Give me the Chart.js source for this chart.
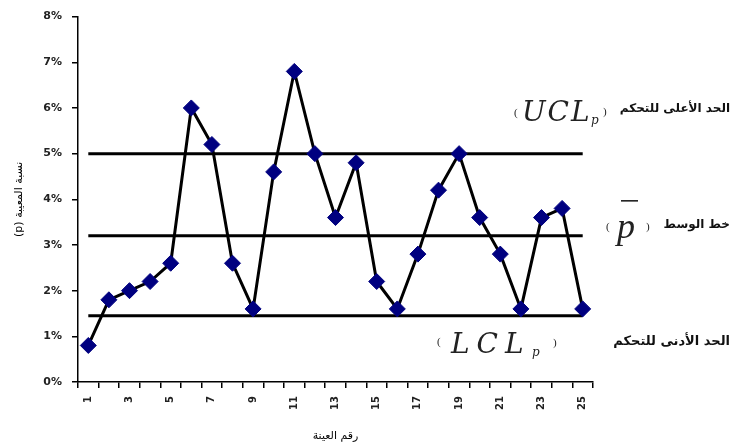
<!DOCTYPE html>
<html>
<head>
<meta charset="utf-8">
<script src="https://cdn.jsdelivr.net/npm/chart.js@4"></script>
<style>
html,body{margin:0;padding:0;background:#fff;}
#wrap{width:730px;height:443px;}
</style>
</head>
<body>
<div id="wrap"><canvas id="c" width="730" height="443"></canvas></div>
<script>
// ---- data ----
const categories = ['1','2','3','4','5','6','7','8','9','10','11','12','13','14','15','16','17','18','19','20','21','22','23','24','25'];
const defectRate = [0.8,1.8,2.0,2.2,2.6,6.0,5.2,2.6,1.6,4.6,6.8,5.0,3.6,4.8,2.2,1.6,2.8,4.2,5.0,3.6,2.8,1.6,3.6,3.8,1.6];
const UCL = 5.0;
const CL = 3.2;
const LCL = 1.45;
const yTickLabels = ['0%','1%','2%','3%','4%','5%','6%','7%','8%'];
const xTitle = 'رقم العينة';
const yTitle = '(p) نسبة المعيبة';
const uclText = 'الحد الأعلى للتحكم';
const clText = 'خط الوسط';
const lclText = 'الحد الأدنى للتحكم';

Chart.defaults.font.family = "'DejaVu Sans', sans-serif";
Chart.defaults.color = '#000';

function limitLine(v){
  return {
    data:[{x:categories[0], y:v},{x:categories[categories.length-1], y:v}],
    borderColor:'#000', borderWidth:3, pointRadius:0, tension:0, order:2
  };
}

const annotate = {
  id:'annotate',
  afterDraw(chart){
    const ctx = chart.ctx;
    const ys = chart.scales.y;
    const yU = ys.getPixelForValue(UCL);
    const yC = ys.getPixelForValue(CL);
    const yL = ys.getPixelForValue(LCL);
    ctx.save();
    ctx.fillStyle = '#111';
    ctx.strokeStyle = '#111';
    // Arabic labels
    ctx.textAlign = 'right';
    ctx.textBaseline = 'middle';
    ctx.font = "bold 12px 'DejaVu Sans', sans-serif";
    ctx.fillText(uclText, 730, yU - 45);
    ctx.fillText(clText, 730, yC - 11);
    ctx.font = "bold 13px 'DejaVu Sans', sans-serif";
    ctx.fillText(lclText, 730, yL + 26);
    // symbols
    ctx.textAlign = 'left';
    const small = "11px 'Liberation Serif', serif";
    const big = "italic 28px 'DejaVu Serif', serif";
    const sub = "italic 12px 'DejaVu Serif', serif";
    ctx.fillStyle = '#222';
    // UCL_p
    ctx.textBaseline = 'middle';
    ctx.font = small;
    ctx.fillText('(', 514, yU - 41);
    ctx.fillText(')', 603, yU - 42);
    ctx.textBaseline = 'alphabetic';
    ctx.font = big;
    if ('letterSpacing' in ctx) ctx.letterSpacing = '2px';
    ctx.fillText('UCL', 522, yU - 33);
    if ('letterSpacing' in ctx) ctx.letterSpacing = '0px';
    ctx.font = sub;
    ctx.fillText('p', 591, yU - 30);
    // p-bar
    ctx.textBaseline = 'middle';
    ctx.font = small;
    ctx.fillText('(', 606, yC - 9);
    ctx.fillText(')', 646, yC - 9);
    ctx.textBaseline = 'alphabetic';
    ctx.font = "italic 36px 'Liberation Serif', serif";
    ctx.fillText('p', 617, yC + 2);
    ctx.lineWidth = 1.5;
    ctx.beginPath();
    ctx.moveTo(621, yC - 35);
    ctx.lineTo(638, yC - 35);
    ctx.stroke();
    // LCL_p
    ctx.textBaseline = 'middle';
    ctx.font = small;
    ctx.fillText('(', 437, yL + 26);
    ctx.fillText(')', 553, yL + 27);
    ctx.textBaseline = 'alphabetic';
    ctx.font = big;
    if ('letterSpacing' in ctx) ctx.letterSpacing = '7px';
    ctx.fillText('LCL', 451, yL + 37);
    if ('letterSpacing' in ctx) ctx.letterSpacing = '0px';
    ctx.font = sub;
    ctx.fillText('p', 532, yL + 40);
    ctx.restore();
  }
};

new Chart(document.getElementById('c'), {
  type:'line',
  data:{
    labels:categories,
    datasets:[
      {
        label:'p',
        data:defectRate,
        borderColor:'#000',
        borderWidth:3,
        tension:0,
        pointStyle:'rectRot',
        pointRadius:8,
        pointBackgroundColor:'#000080',
        pointBorderColor:'#000080',
        pointBorderWidth:1,
        order:1
      },
      limitLine(UCL),
      limitLine(CL),
      limitLine(LCL)
    ]
  },
  options:{
    responsive:false,
    animation:false,
    devicePixelRatio:1,
    layout:{padding:{left:0,right:137,top:14,bottom:0}},
    plugins:{legend:{display:false},tooltip:{enabled:false}},
    scales:{
      x:{
        type:'category',
        offset:true,
        grid:{offset:true,drawOnChartArea:false,drawTicks:true,tickLength:6,color:'#000',lineWidth:1.5},
        border:{display:true,color:'#000',width:1.5},
        ticks:{
          autoSkip:false,minRotation:90,maxRotation:90,padding:8,color:'#222',
          font:{size:10,weight:'bold'},
          callback:(v,i)=> (i % 2 === 0 ? categories[i] : '')
        },
        title:{display:true,text:xTitle,color:'#000',font:{size:11},padding:{top:0,bottom:0}},
        afterFit(s){ s.height = 61; }
      },
      y:{
        min:0,max:8,
        grid:{drawOnChartArea:false,drawTicks:true,tickLength:6,color:'#000',lineWidth:1.5},
        border:{display:true,color:'#000',width:1.5},
        ticks:{
          stepSize:1,padding:10,color:'#222',font:{size:11,weight:'bold'},
          callback:(v)=> yTickLabels[Math.round(v)]
        },
        title:{display:true,text:yTitle,color:'#000',font:{size:11},padding:{top:13,bottom:0}},
        afterFit(s){ s.width = 78; }
      }
    }
  },
  plugins:[annotate]
});
</script>
</body>
</html>
